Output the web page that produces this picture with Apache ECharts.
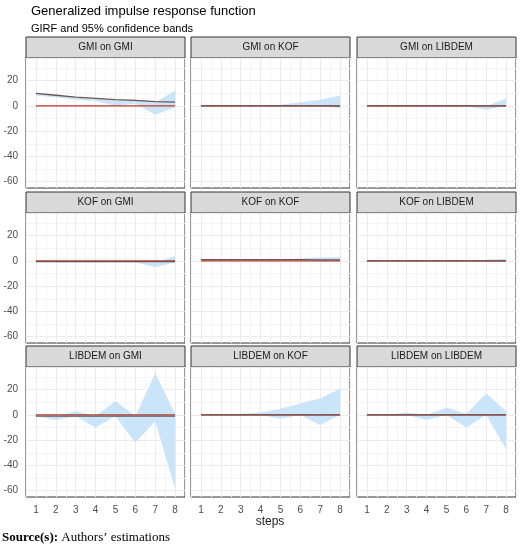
<!DOCTYPE html>
<html>
<head>
<meta charset="utf-8">
<script src="https://cdn.jsdelivr.net/npm/echarts@6/dist/echarts.min.js"></script>
<style>body{margin:0}#c{width:520px;height:545px}</style>
</head>
<body>
<div id="c"></div>
<script>
// steps 1..8
var steps = [1, 2, 3, 4, 5, 6, 7, 8];
var panelNames = ['GMI on GMI', 'GMI on KOF', 'GMI on LIBDEM',
                  'KOF on GMI', 'KOF on KOF', 'KOF on LIBDEM',
                  'LIBDEM on GMI', 'LIBDEM on KOF', 'LIBDEM on LIBDEM'];
// point estimates (GIRF)
var girf = [
    [10, 8.5, 7, 6, 5, 4.5, 3.5, 3],
    [0, 0, 0, 0, 0, 0, 0, 0],
    [0, 0, 0, 0, 0, 0, 0, 0],
    [-0.5, -0.5, -0.5, -0.5, -0.5, -0.5, -0.5, -0.5],
    [1, 1, 1, 1, 1, 1, 0.8, 0.8],
    [0, 0, 0, 0, 0, 0, 0, 0],
    [-1, -1, -1, -1, -1, -1, -1, -1],
    [0, 0, 0, 0, 0, 0, 0, 0],
    [0, 0, 0, 0, 0, 0, 0, 0]
];
// lower band
var lower = [
    [8, 7, 5, 4, 0, 2, -7, -1],
    [0, 0, 0, 0, 0, 0, 0, -2],
    [0, 0, 0, 0, 0, 0, -3, 0],
    [0, -1, -1, -1, -1, -1, -5, -1],
    [1, 1, 1, 1, 1, 1, 0, 0],
    [0, -0.5, -0.5, -0.5, -0.5, -0.5, -0.5, -0.5],
    [-1, -4, -1, -10, -1, -22, -5, -58],
    [0, 0, 0, 0, -3, 0, -8, 0],
    [0, -1, 0, -4, 0, -10, 0, -27]
];
// upper band
var upper = [
    [10, 8.5, 7, 6, 5, 5, 3, 12],
    [0, 0, 0, 0, 1, 3, 5, 8],
    [0, 0, 0, 0, 0, 1, 0, 6],
    [0, 0, 0, 0, 0, 0, -1, 4],
    [1, 1, 1, 1, 1, 2, 3, 3],
    [0, 0, 0, 0, 0, 0, 1, 2],
    [-1, -1, 3, -1, 11, -1, 33, 1],
    [0, 0, 1, 2, 5, 9, 13, 21],
    [0, 0, 2, 0, 6, 1, 17, 3]
];

var colLeft = [26, 191, 357];
var rowTop = [58, 213, 367];
var pw = 159, ph = 130;

function bandRenderer(lo, up) {
    return function (params, api) {
        if (params.dataIndex !== 0) return;
        var pts = [];
        for (var k = 0; k < steps.length; k++) pts.push(api.coord([steps[k], up[k]]));
        for (var k = steps.length - 1; k >= 0; k--) pts.push(api.coord([steps[k], lo[k]]));
        return {type: 'polygon', shape: {points: pts}, style: {fill: '#c4e1f8', opacity: 0.9}};
    };
}

var grids = [], xAxes = [], yAxes = [], series = [], graphics = [];
for (var i = 0; i < 9; i++) {
    var r = Math.floor(i / 3), c = i % 3;
    grids.push({left: colLeft[c], top: rowTop[r], width: pw, height: ph,
        show: true, backgroundColor: '#fff', borderColor: '#333', borderWidth: 1});
    xAxes.push({
        gridIndex: i, type: 'value', min: 0.5, max: 8.5, interval: 0.5,
        axisLine: {show: false}, axisTick: {show: false},
        axisLabel: {show: r === 2, color: '#4d4d4d', fontSize: 10, fontFamily: 'Arial',
            formatter: function (v) { return v % 1 === 0 ? v : ''; }},
        splitLine: {lineStyle: {color: ['#f4f4f4', '#ebebeb'], width: 1}}
    });
    yAxes.push({
        gridIndex: i, type: 'value', min: -65, max: 38, interval: 5,
        axisLine: {show: false}, axisTick: {show: false},
        axisLabel: {show: c === 0, color: '#4d4d4d', fontSize: 10, fontFamily: 'Arial',
            formatter: function (v) { return (v % 20 === 0 && v <= 20) ? v : ''; }},
        splitLine: {lineStyle: {color: ['rgba(0,0,0,0)', '#ebebeb', 'rgba(0,0,0,0)', '#f4f4f4'], width: 1}}
    });
    series.push({type: 'custom', xAxisIndex: i, yAxisIndex: i, silent: true,
        data: steps.map(function (s, k) { return [s, lower[i][k], upper[i][k]]; }),
        encode: {x: 0, y: [1, 2]},
        renderItem: bandRenderer(lower[i], upper[i])});
    series.push({type: 'line', xAxisIndex: i, yAxisIndex: i, symbol: 'none',
        data: steps.map(function (s) { return [s, 0]; }),
        lineStyle: {color: '#c0392b', width: 1.2}});
    series.push({type: 'line', xAxisIndex: i, yAxisIndex: i, symbol: 'none',
        data: steps.map(function (s, k) { return [s, girf[i][k]]; }),
        lineStyle: {color: '#6b5553', width: 1.3}});
    graphics.push({type: 'rect', x: colLeft[c], y: rowTop[r] - 21,
        shape: {width: pw, height: 21}, style: {fill: '#d9d9d9', stroke: '#333', lineWidth: 1}});
    graphics.push({type: 'text', x: colLeft[c] + pw / 2, y: rowTop[r] - 10.5,
        style: {text: panelNames[i], fill: '#1a1a1a', font: '10px Arial', align: 'center', verticalAlign: 'middle'}});
}
graphics.push({type: 'text', x: 270, y: 522, style: {text: 'steps', fill: '#1a1a1a', font: '12px Arial', align: 'center', verticalAlign: 'middle'}});
graphics.push({type: 'text', x: 2, y: 538, style: {
    text: '{b|Source(s):} Authors\u2019 estimations', verticalAlign: 'middle',
    rich: {b: {fontWeight: 'bold', fontFamily: 'Liberation Serif', fontSize: 13, fill: '#000'}},
    font: '13px "Liberation Serif"', fill: '#000'}});

var chart = echarts.init(document.getElementById('c'));
chart.setOption({
    backgroundColor: '#fff',
    animation: false,
    title: [
        {text: 'Generalized impulse response function', left: 26, top: 0,
            textStyle: {fontSize: 13, fontWeight: 'normal', color: '#000', fontFamily: 'Arial'}},
        {text: 'GIRF and 95% confidence bands', left: 26, top: 18,
            textStyle: {fontSize: 11, fontWeight: 'normal', color: '#000', fontFamily: 'Arial'}}
    ],
    grid: grids, xAxis: xAxes, yAxis: yAxes, series: series, graphic: graphics
});
</script>
</body>
</html>
